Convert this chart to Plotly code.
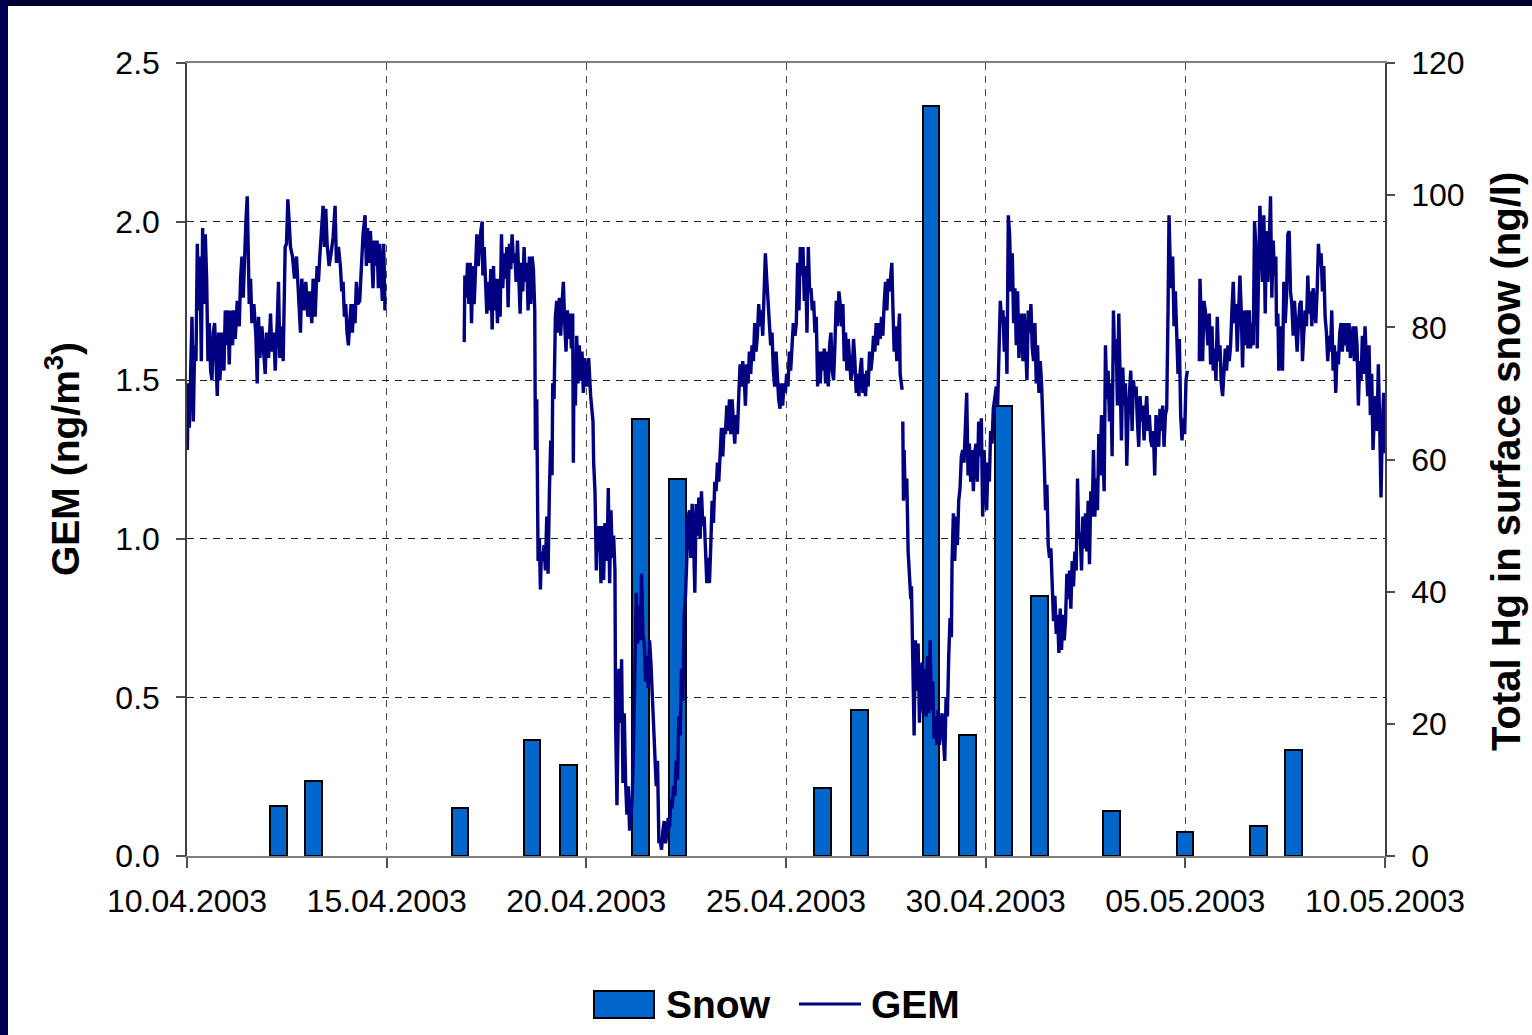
import pandas as pd
import plotly.graph_objects as go

START = pd.Timestamp("2003-04-10 00:00")
END = pd.Timestamp("2003-05-10 00:00")

# ---------------- data ----------------
# Total Hg in surface snow (ng/l): sampling time (hours after 10.04.2003 00:00) and value
snow_hours = [54.9, 76.1, 164.1, 207.3, 229.4, 272.7, 294.7, 381.8, 404.0,
              447.1, 469.2, 490.8, 512.5, 555.8, 599.8, 643.9, 665.1]
snow_values = [7.6, 11.4, 7.2, 17.5, 13.7, 66.1, 57.0, 10.3, 22.1,
               113.5, 18.3, 68.1, 39.3, 6.8, 3.7, 4.5, 16.0]

# GEM (ng/m3): [hours after 10.04.2003 00:00, value]; None = no data
gem_readings = [
    [0.2, 1.28], [0.8, 1.49], [1.4, 1.35], [2.2, 1.59], [3.0, 1.70], [3.8, 1.37], [4.6, 1.61],
    [5.4, 1.56], [6.2, 1.93], [7.0, 1.72], [7.8, 1.89], [8.6, 1.56], [9.4, 1.98], [10.2, 1.74],
    [11.0, 1.96], [11.8, 1.82], [12.6, 1.56], [13.4, 1.68], [14.2, 1.53], [15.0, 1.50],
    [15.8, 1.65], [16.6, 1.68], [17.4, 1.56], [18.2, 1.45], [19.0, 1.65], [19.8, 1.50],
    [21.0, 1.65], [22.2, 1.53], [23.0, 1.72], [23.8, 1.61], [24.6, 1.72], [25.4, 1.55],
    [26.2, 1.72], [27.4, 1.61], [28.2, 1.72], [29.0, 1.63], [30.2, 1.75], [31.4, 1.67],
    [32.2, 1.82], [33.0, 1.89], [33.8, 1.76], [34.6, 1.93], [35.4, 2.00], [36.2, 2.08],
    [36.8, 1.89], [37.4, 1.74], [38.2, 1.82], [39.0, 1.68], [40.2, 1.74], [41.4, 1.64],
    [42.2, 1.49], [43.0, 1.70], [43.8, 1.57], [45.0, 1.67], [45.8, 1.61], [47.0, 1.52],
    [47.8, 1.65], [49.0, 1.57], [50.2, 1.71], [51.0, 1.59], [52.2, 1.65], [53.0, 1.53],
    [54.2, 1.68], [55.0, 1.81], [55.8, 1.57], [57.0, 1.67], [57.8, 1.56], [59.0, 1.92],
    [59.8, 1.93], [60.6, 2.07], [61.4, 2.00], [62.2, 1.92], [63.4, 1.89], [64.6, 1.82],
    [65.8, 1.89], [67.0, 1.76], [68.2, 1.65], [69.0, 1.82], [70.2, 1.72], [71.4, 1.81],
    [72.6, 1.70], [73.8, 1.78], [75.0, 1.68], [75.8, 1.82], [77.0, 1.70], [78.2, 1.86],
    [79.0, 1.81], [79.8, 1.89], [81.0, 1.97], [81.8, 2.05], [82.6, 1.92], [83.4, 2.04],
    [84.2, 1.93], [85.4, 1.86], [86.6, 1.90], [87.8, 1.95], [89.0, 2.05], [89.8, 1.87],
    [91.0, 1.92], [92.2, 1.86], [93.0, 1.78], [93.8, 1.81], [94.6, 1.70], [95.4, 1.74],
    [96.2, 1.65], [97.0, 1.61], [97.8, 1.68], [98.6, 1.74], [99.4, 1.65], [100.2, 1.74],
    [101.0, 1.68], [101.8, 1.81], [102.6, 1.74], [103.8, 1.75], [105.8, 1.96], [107.0, 2.02],
    [107.8, 1.86], [108.6, 1.98], [109.4, 1.87], [110.2, 1.97], [111.0, 1.89], [111.8, 1.79],
    [112.6, 1.94], [113.4, 1.86], [114.2, 1.94], [115.0, 1.79], [115.8, 1.93], [116.6, 1.86],
    [117.4, 1.75], [118.2, 1.93], [119.0, 1.72],
    [140.0, None],
    [166.6, 1.62], [167.0, 1.83], [167.8, 1.76], [168.6, 1.87], [169.4, 1.74], [170.2, 1.87],
    [171.0, 1.68], [171.8, 1.86], [172.6, 1.74], [173.4, 1.90], [174.2, 1.96], [175.0, 1.86],
    [175.8, 1.93], [176.6, 1.97], [177.4, 2.00], [177.8, 1.83], [178.6, 1.92], [179.4, 1.81],
    [180.2, 1.71], [181.0, 1.81], [181.8, 1.72], [182.6, 1.85], [183.4, 1.66], [184.2, 1.86],
    [185.0, 1.72], [185.8, 1.82], [186.6, 1.68], [187.4, 1.82], [188.2, 1.70], [189.0, 1.96],
    [189.8, 1.79], [190.6, 1.90], [191.4, 1.82], [192.2, 1.92], [193.0, 1.73], [193.8, 1.93],
    [194.6, 1.85], [195.4, 1.96], [196.2, 1.87], [197.0, 1.90], [197.8, 1.81], [198.6, 1.94],
    [199.4, 1.79], [200.2, 1.71], [201.0, 1.87], [201.8, 1.78], [202.6, 1.92], [203.4, 1.81],
    [204.2, 1.87], [205.0, 1.72], [205.8, 1.89], [206.6, 1.74], [207.4, 1.89], [208.2, 1.85],
    [209.0, 1.72], [209.4, 1.28], [210.2, 1.44], [210.6, 1.17], [211.0, 0.93], [211.8, 1.00],
    [212.4, 0.84], [213.0, 0.96], [213.8, 0.93], [214.6, 0.98], [215.4, 0.90], [216.2, 1.07],
    [217.0, 0.89], [217.8, 1.15], [218.6, 1.31], [219.4, 1.20], [219.8, 1.49], [220.6, 1.44],
    [221.4, 1.70], [222.2, 1.75], [223.0, 1.65], [223.8, 1.76], [224.6, 1.64], [225.4, 1.74],
    [226.2, 1.81], [227.0, 1.68], [227.8, 1.59], [228.6, 1.72], [229.4, 1.63], [230.2, 1.71],
    [231.0, 1.60], [231.8, 1.71], [232.2, 1.24], [232.6, 1.56], [233.4, 1.42], [234.2, 1.64],
    [235.0, 1.49], [235.8, 1.61], [236.6, 1.50], [237.4, 1.59], [238.2, 1.46], [239.0, 1.57],
    [240.2, 1.48], [241.4, 1.57], [242.6, 1.45],
    [244.0, 1.37], [244.4, 1.24], [245.2, 1.15], [246.0, 0.90], [246.4, 1.04], [247.2, 0.96],
    [248.0, 1.04], [248.8, 0.86], [249.6, 1.04], [250.4, 0.87], [251.2, 1.05], [252.0, 0.93],
    [252.8, 1.04], [253.2, 1.16], [254.0, 0.86], [254.8, 1.09], [255.6, 0.94], [256.4, 1.01],
    [257.2, 0.90], [257.6, 0.42], [258.4, 0.16], [258.8, 0.38], [259.6, 0.59], [260.4, 0.42],
    [261.2, 0.62], [262.0, 0.23], [262.8, 0.45], [263.6, 0.23], [264.4, 0.13], [265.2, 0.22],
    [266.0, 0.08], [266.8, 0.12], [267.6, 0.19], [268.4, 0.35], [269.2, 0.63], [270.0, 0.83],
    [270.8, 0.67], [271.6, 0.79], [272.4, 0.68], [273.2, 0.89], [274.0, 0.70], [274.8, 0.67],
    [275.6, 0.55], [276.4, 0.63], [277.2, 0.53], [278.0, 0.68], [278.8, 0.61], [279.6, 0.52],
    [280.4, 0.45], [281.2, 0.35], [282.0, 0.22], [282.8, 0.30], [283.6, 0.04], [284.4, 0.05],
    [285.2, 0.02], [286.0, 0.08], [286.8, 0.11], [287.6, 0.04], [288.4, 0.07], [289.2, 0.12],
    [290.0, 0.09], [290.8, 0.18], [291.6, 0.15], [292.4, 0.22], [293.2, 0.19], [294.0, 0.30],
    [294.8, 0.24], [295.6, 0.44], [296.4, 0.38], [297.2, 0.59], [298.0, 0.49], [298.8, 0.76],
    [299.6, 0.82], [300.4, 0.94], [301.2, 1.07], [302.0, 1.09], [302.8, 0.94], [303.6, 1.11],
    [304.4, 1.01], [305.2, 0.83], [306.0, 1.11], [306.8, 1.01], [307.6, 1.13], [308.4, 1.00],
    [309.2, 1.15], [310.0, 1.04], [310.8, 1.07], [311.6, 0.97], [312.4, 0.86], [313.2, 0.94],
    [314.0, 0.86], [314.8, 0.98], [315.6, 1.12], [316.4, 1.05], [317.2, 1.18], [318.0, 1.15],
    [318.8, 1.24], [319.6, 1.18], [320.4, 1.26], [321.2, 1.35], [322.0, 1.26], [322.8, 1.35],
    [323.6, 1.33], [324.4, 1.42], [325.2, 1.34], [326.0, 1.44], [326.8, 1.33], [327.6, 1.44],
    [328.4, 1.37], [329.2, 1.30], [330.0, 1.39], [330.8, 1.33], [331.6, 1.45], [332.4, 1.55],
    [333.2, 1.48], [334.0, 1.56], [334.8, 1.52], [335.6, 1.42], [336.4, 1.55], [337.2, 1.49],
    [338.0, 1.59], [338.8, 1.52], [339.6, 1.61], [340.4, 1.56], [341.2, 1.68], [342.0, 1.59],
    [342.8, 1.64], [343.6, 1.74], [344.4, 1.67], [345.2, 1.72], [346.0, 1.64], [346.8, 1.79],
    [347.6, 1.90], [348.4, 1.82], [349.2, 1.72], [350.0, 1.68], [350.8, 1.61], [351.6, 1.65],
    [352.4, 1.53], [353.2, 1.48], [354.0, 1.59], [354.8, 1.49], [355.6, 1.44], [356.4, 1.41],
    [357.2, 1.49], [358.0, 1.42], [358.8, 1.49], [359.6, 1.46], [360.4, 1.52], [361.2, 1.48],
    [362.0, 1.59], [362.8, 1.53], [363.6, 1.63], [364.4, 1.68],
    [365.4, 1.64], [366.2, 1.68], [367.0, 1.87], [367.8, 1.72], [368.6, 1.92], [369.4, 1.83],
    [370.2, 1.92], [371.0, 1.75], [371.8, 1.86], [372.6, 1.65], [373.4, 1.92], [374.2, 1.78],
    [375.0, 1.79], [375.8, 1.72], [376.6, 1.75], [377.4, 1.65], [378.2, 1.70], [379.0, 1.48],
    [379.8, 1.59], [380.6, 1.49], [381.4, 1.59], [382.2, 1.53], [383.0, 1.60], [383.8, 1.49],
    [384.6, 1.59], [385.4, 1.48], [386.2, 1.61], [387.0, 1.65], [387.8, 1.53], [388.6, 1.50],
    [389.4, 1.61], [390.2, 1.75], [391.0, 1.67], [391.8, 1.78], [392.6, 1.74], [393.4, 1.67],
    [394.2, 1.74], [395.0, 1.56], [395.8, 1.65], [396.6, 1.53], [397.4, 1.63], [398.2, 1.57],
    [399.0, 1.50], [399.8, 1.53], [400.6, 1.63], [401.4, 1.56], [402.2, 1.46], [403.0, 1.52],
    [403.8, 1.45], [404.6, 1.53], [405.4, 1.57], [406.2, 1.46], [407.0, 1.52], [407.8, 1.45],
    [408.6, 1.53], [409.4, 1.48], [410.2, 1.59], [411.0, 1.53], [411.8, 1.57], [412.6, 1.64],
    [413.4, 1.59], [414.2, 1.68], [415.0, 1.61], [415.8, 1.68], [416.6, 1.63], [417.4, 1.70],
    [418.2, 1.64], [419.0, 1.74], [419.8, 1.81], [420.6, 1.72], [421.4, 1.82], [422.2, 1.78],
    [423.0, 1.82], [423.6, 1.87], [424.2, 1.74], [425.0, 1.59], [425.8, 1.67], [426.6, 1.56],
    [427.4, 1.63], [428.2, 1.71], [428.6, 1.52], [429.4, 1.48], [429.8, 1.47],
    [430.0, None],
    [430.2, 1.37], [430.6, 1.12], [431.0, 1.28], [431.4, 1.18], [432.2, 1.13], [432.6, 1.19],
    [433.4, 0.96], [434.2, 0.85], [435.0, 0.81], [435.4, 0.85], [436.2, 0.56], [437.0, 0.38],
    [437.8, 0.68], [438.6, 0.52], [439.4, 0.67], [440.2, 0.42], [441.0, 0.55], [441.8, 0.61],
    [442.6, 0.45], [443.4, 0.59], [444.2, 0.44], [445.0, 0.63], [445.8, 0.45], [446.6, 0.68],
    [447.4, 0.46], [448.2, 0.55], [449.0, 0.37], [449.8, 0.44], [450.6, 0.35], [451.4, 0.46],
    [452.2, 0.35], [453.0, 0.41], [453.8, 0.45], [454.6, 0.37], [455.4, 0.30], [456.2, 0.50],
    [457.0, 0.44], [457.8, 0.63], [458.6, 0.75], [459.4, 0.69], [459.8, 0.93], [460.6, 1.08],
    [461.4, 0.93], [462.2, 1.07], [463.0, 0.98], [463.8, 1.12], [464.6, 1.16], [465.4, 1.26],
    [466.2, 1.28], [467.0, 1.24], [467.8, 1.34], [468.6, 1.46], [469.4, 1.20], [470.2, 1.30],
    [471.0, 1.18], [471.8, 1.28], [472.6, 1.15], [473.4, 1.27], [474.2, 1.30], [475.0, 1.18],
    [475.8, 1.37], [476.6, 1.26], [477.4, 1.38], [478.2, 1.07], [479.0, 1.28], [479.8, 1.19],
    [480.6, 1.09], [481.4, 1.24], [482.2, 1.18], [483.0, 1.34], [483.8, 1.30], [484.6, 1.41],
    [485.6, 1.45], [486.4, 1.48], [487.2, 1.42], [488.0, 1.55], [488.8, 1.75], [489.6, 1.68],
    [490.4, 1.72], [491.2, 1.59], [492.0, 1.70], [492.8, 1.52], [493.6, 2.02], [494.4, 1.96],
    [495.2, 1.78], [496.0, 1.90], [496.8, 1.68], [497.6, 1.79], [498.4, 1.61], [499.2, 1.78],
    [500.0, 1.57], [500.8, 1.67], [501.6, 1.71], [502.4, 1.56], [503.2, 1.71], [504.0, 1.61],
    [504.8, 1.50], [505.6, 1.72], [506.4, 1.65], [507.2, 1.74], [508.0, 1.60], [508.8, 1.56],
    [509.6, 1.68], [510.4, 1.49], [511.2, 1.61], [512.0, 1.46], [512.8, 1.56], [513.6, 1.49],
    [514.4, 1.31], [515.2, 1.24], [516.0, 1.09], [516.8, 1.17], [517.6, 0.98], [518.4, 0.94],
    [519.2, 0.97], [520.0, 0.86], [520.8, 0.74], [521.6, 0.82], [522.4, 0.70], [523.2, 0.76],
    [524.0, 0.64], [524.8, 0.78], [525.6, 0.65], [526.4, 0.76], [527.2, 0.68], [528.0, 0.74],
    [528.8, 0.89], [529.6, 0.81], [530.4, 0.90], [531.2, 0.78], [532.0, 0.93], [532.8, 0.85],
    [533.6, 0.96], [534.4, 0.90], [535.2, 1.19], [536.0, 1.00], [536.8, 1.02], [537.6, 0.90],
    [538.4, 1.07], [539.2, 0.97], [540.0, 1.08], [540.8, 0.96], [541.6, 1.12], [542.4, 0.92],
    [543.2, 1.15], [544.0, 1.07], [544.8, 1.28], [545.6, 1.07], [546.4, 1.19], [547.2, 1.09],
    [548.0, 1.33], [548.8, 1.20], [549.6, 1.39], [550.4, 1.30], [551.2, 1.15], [552.0, 1.61],
    [552.8, 1.44], [553.6, 1.53], [554.4, 1.37], [555.2, 1.49], [556.0, 1.26], [556.8, 1.72],
    [557.6, 1.56], [558.4, 1.63], [559.2, 1.42], [560.0, 1.71], [560.8, 1.54], [561.6, 1.31],
    [562.4, 1.54], [563.2, 1.42], [564.0, 1.49], [564.8, 1.23], [565.6, 1.39], [566.4, 1.49],
    [567.2, 1.53], [568.0, 1.34], [568.8, 1.50], [569.6, 1.45], [570.4, 1.48], [571.2, 1.37],
    [572.0, 1.29], [572.8, 1.45], [573.6, 1.37], [574.4, 1.42], [575.2, 1.31], [576.0, 1.39],
    [576.8, 1.45], [577.6, 1.34], [578.4, 1.39], [579.2, 1.31], [580.0, 1.29], [580.8, 1.34],
    [581.6, 1.20], [582.4, 1.39], [583.2, 1.33], [584.0, 1.29], [584.8, 1.41], [585.6, 1.34],
    [586.4, 1.42], [587.2, 1.29], [588.0, 1.39], [588.8, 1.41], [589.6, 1.72], [590.2, 2.02],
    [590.8, 1.89], [591.6, 1.79], [592.4, 1.89], [593.2, 1.67], [594.0, 1.78], [594.8, 1.65],
    [595.6, 1.52], [596.4, 1.63], [597.2, 1.39], [598.0, 1.31], [598.8, 1.38], [599.6, 1.33],
    [600.4, 1.50], [601.2, 1.53],
    [605.0, None],
    [608.4, 1.56], [608.8, 1.82], [609.6, 1.68], [610.4, 1.56], [611.2, 1.75], [612.0, 1.72],
    [612.8, 1.67], [613.6, 1.61], [614.4, 1.71], [615.2, 1.55], [616.0, 1.67], [616.8, 1.53],
    [617.6, 1.60], [618.4, 1.50], [619.2, 1.70], [620.0, 1.56], [620.8, 1.61], [621.6, 1.49],
    [622.4, 1.45], [623.2, 1.53], [624.0, 1.60], [624.8, 1.53], [625.6, 1.61], [626.4, 1.56],
    [627.2, 1.61], [628.0, 1.72], [628.8, 1.81], [629.6, 1.68], [630.4, 1.74], [631.2, 1.59],
    [632.0, 1.75], [632.8, 1.83], [633.6, 1.72], [634.4, 1.54], [635.2, 1.72], [636.0, 1.61],
    [636.8, 1.72], [637.6, 1.60], [638.4, 1.72], [639.2, 1.60], [640.0, 1.68], [640.8, 1.61],
    [641.6, 2.00], [642.4, 1.92], [643.2, 1.60], [644.0, 1.89], [644.8, 2.05], [645.6, 1.94],
    [646.4, 1.81], [647.2, 2.02], [648.0, 1.71], [648.8, 1.97], [649.6, 1.81], [650.4, 1.93],
    [651.2, 2.08], [652.0, 1.76], [652.8, 1.94], [653.6, 1.83], [654.4, 1.89], [654.8, 1.67],
    [655.6, 1.71], [656.2, 1.53], [656.8, 1.67], [657.6, 1.61], [658.4, 1.53], [659.2, 1.81],
    [660.0, 1.68], [660.8, 1.76], [661.6, 1.96], [662.4, 1.97], [663.2, 1.78], [664.0, 1.74],
    [664.8, 1.64], [665.6, 1.75], [666.4, 1.68], [667.2, 1.59], [668.0, 1.68], [668.8, 1.74],
    [669.6, 1.75], [670.4, 1.56], [671.2, 1.65], [672.0, 1.72], [672.8, 1.67], [673.6, 1.83],
    [674.4, 1.71], [675.2, 1.78], [676.0, 1.67], [676.8, 1.79], [677.6, 1.75], [678.4, 1.68],
    [679.2, 1.78], [680.0, 1.93], [680.8, 1.86], [681.6, 1.90], [682.4, 1.78], [683.2, 1.86],
    [684.0, 1.70], [684.8, 1.65], [685.6, 1.56], [686.4, 1.64], [687.2, 1.59], [688.0, 1.72],
    [688.8, 1.53], [689.6, 1.61], [690.4, 1.46], [691.2, 1.59], [692.0, 1.55], [692.8, 1.65],
    [693.6, 1.68], [694.4, 1.59], [695.2, 1.68], [696.0, 1.61], [696.8, 1.68], [697.6, 1.59],
    [698.4, 1.68], [699.2, 1.57], [700.0, 1.61], [700.8, 1.67], [701.6, 1.56], [702.4, 1.67],
    [703.2, 1.61], [704.0, 1.42], [704.8, 1.56], [705.6, 1.50], [706.4, 1.64], [707.2, 1.52],
    [708.0, 1.67], [708.8, 1.55], [709.6, 1.45], [710.4, 1.61], [711.2, 1.39], [712.0, 1.52],
    [712.8, 1.28], [713.6, 1.39], [714.4, 1.45], [715.2, 1.34], [716.0, 1.55], [716.8, 1.36],
    [717.6, 1.13], [718.4, 1.36], [719.2, 1.46], [720.0, 1.27],
]

gem_tick_values = [0.0, 0.5, 1.0, 1.5, 2.0, 2.5]
snow_tick_values = [0, 20, 40, 60, 80, 100, 120]
date_tick_values = ["2003-04-10", "2003-04-15", "2003-04-20", "2003-04-25",
                    "2003-04-30", "2003-05-05", "2003-05-10"]
date_tick_labels = ["10.04.2003", "15.04.2003", "20.04.2003", "25.04.2003",
                    "30.04.2003", "05.05.2003", "10.05.2003"]

# ---------------- build ----------------
gem_times = [START + pd.Timedelta(hours=h) for h, _ in gem_readings]
gem_values = [v for _, v in gem_readings]
snow_times = [START + pd.Timedelta(hours=h) for h in snow_hours]

W, H = 1532, 1035
ML, MR, MT, MB = 187, 147, 63, 179
PW, PH = W - ML - MR, H - MT - MB


def px(x):
    return (x - ML) / PW


def py(y):
    return (H - MB - y) / PH


FONT = "Liberation Sans, Arial, sans-serif"
BAR_COLOR = "#0066CC"
LINE_COLOR = "#000080"

fig = go.Figure()
fig.add_trace(go.Bar(
    name="Snow", x=snow_times, y=snow_values, yaxis="y", xaxis="x",
    width=10 * 3600 * 1000,
    marker=dict(color=BAR_COLOR, line=dict(color="black", width=2)),
    showlegend=False,
))
fig.add_trace(go.Scatter(
    name="GEM", x=gem_times, y=gem_values, yaxis="y2", xaxis="x",
    mode="lines", connectgaps=False,
    line=dict(color=LINE_COLOR, width=3.4),
    showlegend=False,
))

tickfont = dict(family=FONT, size=32, color="black")
fig.update_layout(
    width=W, height=H,
    margin=dict(l=ML, r=MR, t=MT, b=MB, autoexpand=False),
    paper_bgcolor="white", plot_bgcolor="white",
    showlegend=False,
    bargap=0,
    xaxis=dict(
        type="date", range=[START, END],
        tickvals=date_tick_values, ticktext=date_tick_labels,
        ticks="outside", ticklen=10, tickwidth=1.5, tickcolor="#505050",
        showline=True, linecolor="#808080", linewidth=2, mirror=True,
        showgrid=True, gridcolor="#505050", gridwidth=1.2, griddash="7px,6px",
        zeroline=False, tickfont=tickfont, ticklabelstandoff=6,
    ),
    yaxis=dict(
        side="right", range=[0, 120], tickvals=snow_tick_values,
        ticks="outside", ticklen=8, tickwidth=1.5, tickcolor="#505050",
        showline=True, linecolor="#404040", linewidth=1.5,
        showgrid=False, zeroline=False, tickfont=tickfont, ticklabelstandoff=10,
    ),
    yaxis2=dict(
        overlaying="y", side="left", range=[0, 2.5], tickvals=gem_tick_values,
        tickformat=".1f",
        ticks="outside", ticklen=9, tickwidth=1.5, tickcolor="#505050",
        showline=True, linecolor="#404040", linewidth=1.5,
        showgrid=True, gridcolor="#202020", gridwidth=1.2, griddash="7px,6px",
        zeroline=False, tickfont=tickfont, ticklabelstandoff=10,
    ),
)

title_font = dict(family=FONT, size=39, color="black")
annotations = [
    dict(text="<b>GEM (ng/m<sup>3</sup>)</b>", x=px(62), y=py(459), xref="paper", yref="paper",
         textangle=-90, showarrow=False, xanchor="center", yanchor="middle", font=title_font),
    dict(text="<b>Total Hg in surface snow (ng/l)</b>", x=px(1506), y=py(462), xref="paper",
         yref="paper", textangle=-90, showarrow=False, xanchor="center", yanchor="middle",
         font=dict(family=FONT, size=40, color="black")),
    dict(text="<b>Snow</b>", x=px(664), y=py(1004), xref="paper", yref="paper",
         showarrow=False, xanchor="left", yanchor="middle", font=title_font),
    dict(text="<b>GEM</b>", x=px(869), y=py(1004), xref="paper", yref="paper",
         showarrow=False, xanchor="left", yanchor="middle", font=title_font),
]
shapes = [
    # dark frame (top and left)
    dict(type="rect", xref="paper", yref="paper", x0=px(0), x1=px(W), y0=py(0), y1=py(6),
         fillcolor="#000033", line=dict(width=0), layer="above"),
    dict(type="rect", xref="paper", yref="paper", x0=px(0), x1=px(8), y0=py(H), y1=py(0),
         fillcolor="#000050", line=dict(width=0), layer="above"),
    # legend symbols
    dict(type="rect", xref="paper", yref="paper", x0=px(594), x1=px(654), y0=py(1018), y1=py(991),
         fillcolor=BAR_COLOR, line=dict(color="black", width=2), layer="above"),
    dict(type="line", xref="paper", yref="paper", x0=px(799), x1=px(861), y0=py(1004), y1=py(1004),
         line=dict(color=LINE_COLOR, width=3), layer="above"),
]
fig.update_layout(annotations=annotations, shapes=shapes)

fig.write_html(
    "out.html",
    config={"displayModeBar": False},
    post_script="document.body.style.margin='0';document.body.style.overflow='hidden';",
)
